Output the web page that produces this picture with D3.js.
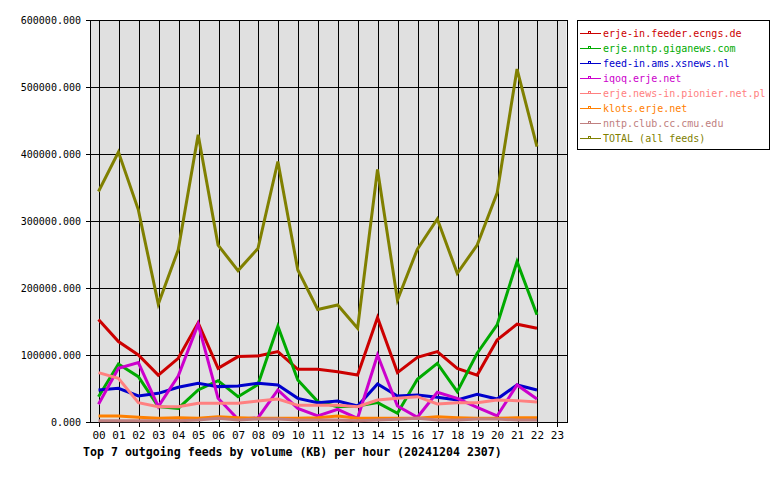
<!DOCTYPE html>
<html><head><meta charset="utf-8">
<script src="https://cdn.jsdelivr.net/npm/d3@7"></script>
<style>
html,body{margin:0;padding:0;background:#fff;}
svg{display:block;}
text{font-family:"DejaVu Sans Mono","Liberation Mono",monospace;}
</style></head>
<body><svg id="c" width="780" height="480"></svg>
<script>
const hours = ["00","01","02","03","04","05","06","07","08","09","10","11","12","13","14","15","16","17","18","19","20","21","22","23"];
const yTicks = [0,100000,200000,300000,400000,500000,600000];
const seriesNames = ["erje-in.feeder.ecngs.de","erje.nntp.giganews.com","feed-in.ams.xsnews.nl","iqoq.erje.net","erje.news-in.pionier.net.pl","klots.erje.net","nntp.club.cc.cmu.edu","TOTAL (all feeds)"];
const seriesColors = ["#cc0000","#00aa00","#0000cc","#cc00cc","#ff8080","#ff8000","#c08080","#808000"];

const ecngs    = [153000,120000,100000,70000,95000,148000,80000,97600,98600,105000,78700,78700,75000,70000,156000,73700,96600,105000,80000,70000,122500,146000,140000];
const giganews = [37800,86600,67700,22900,20400,47800,61700,37800,56000,143000,62700,30400,22900,23900,28900,13000,63700,87600,45300,102600,145000,239400,160000];
const xsnews   = [47800,50300,38800,42800,51800,57800,52800,53800,57800,55300,35300,28900,31400,23900,56800,38800,40300,36800,32900,41300,34300,55300,47800];
const iqoq     = [26400,80100,88600,22900,68700,146000,35300,4000,6000,47800,20400,9000,18900,5500,100000,23900,7000,44300,35300,21900,9000,55300,34300];
const pionier  = [73700,65200,28900,22900,22900,27900,27900,27900,31400,34300,24900,24900,24900,22900,32900,35300,37800,26900,28900,28900,32900,31900,29900];
const klots    = [9000,9000,7000,5500,6500,5500,8000,6500,5500,5500,5500,6500,9000,5500,5500,5500,5500,8000,6500,5500,5500,6500,6500];
const cmu      = [2000,2000,2000,2000,2000,3000,5500,3000,4500,4500,3000,3000,3000,2000,3000,4000,5500,3000,3000,4500,4500,3000,3000];
const total    = [344000,402800,316600,176000,257000,428700,264000,226000,259000,388800,227000,168000,174700,140000,377000,182000,258000,303000,222000,264000,341600,526800,411000];
const seriesValues = [ecngs,giganews,xsnews,iqoq,pionier,klots,cmu,total];

const svg = d3.select("#c");
const L = 90, R = 566.5, T = 20, B = 422;
const x = d3.scaleLinear().domain([0,23]).range([99, 557.4]);
const y = d3.scaleLinear().domain([0,600000]).range([B, T]);

svg.append("rect").attr("x",L).attr("y",T).attr("width",R-L).attr("height",B-T).attr("fill","#e0e0e0");

const g = svg.append("g").attr("shape-rendering","crispEdges");
// horizontal grid
g.selectAll("line.h").data(yTicks).enter().append("line")
  .attr("x1",L-4).attr("x2",R).attr("y1",d=>Math.round(y(d))+0.5).attr("y2",d=>Math.round(y(d))+0.5)
  .attr("stroke","#000").attr("stroke-width",1);
// vertical grid
g.selectAll("line.v").data(hours).enter().append("line")
  .attr("x1",(d,i)=>Math.round(x(i))+0.5).attr("x2",(d,i)=>Math.round(x(i))+0.5)
  .attr("y1",T).attr("y2",B+5).attr("stroke","#000").attr("stroke-width",1);
// axes borders
g.append("line").attr("x1",L+0.5).attr("x2",L+0.5).attr("y1",T).attr("y2",B+1).attr("stroke","#000");
g.append("line").attr("x1",R+0.5).attr("x2",R+0.5).attr("y1",T).attr("y2",B+1).attr("stroke","#000");

// y labels
svg.selectAll("text.yl").data(yTicks).enter().append("text")
  .attr("x",81).attr("y",d=>y(d)+3.5).attr("text-anchor","end")
  .attr("font-size","10px").attr("fill","#000").text(d=>d3.format(".3f")(d));
// x labels
svg.selectAll("text.xl").data(hours).enter().append("text")
  .attr("x",(d,i)=>x(i)).attr("y",439).attr("text-anchor","middle")
  .attr("font-size","11px").attr("fill","#000").text(d=>d);

// lines
const line = d3.line().x((d,i)=>x(i)-0.5).y(d=>y(d));
seriesValues.forEach((vals,k)=>{
  svg.append("path").datum(vals).attr("d",line).attr("fill","none")
    .attr("stroke",seriesColors[k]).attr("stroke-width",3).attr("stroke-linejoin","miter");
});

// title
svg.append("text").attr("x",83).attr("y",456).attr("font-size","11.6px").attr("font-weight","bold")
  .attr("fill","#000").text("Top 7 outgoing feeds by volume (KB) per hour (20241204 2307)");

// legend
svg.append("rect").attr("x",577.5).attr("y",20.5).attr("width",192).attr("height",129)
  .attr("fill","#fff").attr("stroke","#000").attr("shape-rendering","crispEdges");
const lg = svg.selectAll("g.lg").data(seriesNames).enter().append("g")
  .attr("transform",(d,i)=>`translate(0,${33+i*15})`);
lg.append("line").attr("x1",580).attr("x2",601).attr("y1",0.5).attr("y2",0.5)
  .attr("stroke",(d,i)=>seriesColors[i]).attr("stroke-width",1).attr("shape-rendering","crispEdges");
lg.append("rect").attr("x",588.5).attr("y",-1.5).attr("width",2).attr("height",2)
  .attr("fill","none").attr("stroke",(d,i)=>seriesColors[i]).attr("shape-rendering","crispEdges");
lg.append("text").attr("x",603).attr("y",4).attr("font-size","10px")
  .attr("fill",(d,i)=>seriesColors[i]).text(d=>d);
</script></body></html>
